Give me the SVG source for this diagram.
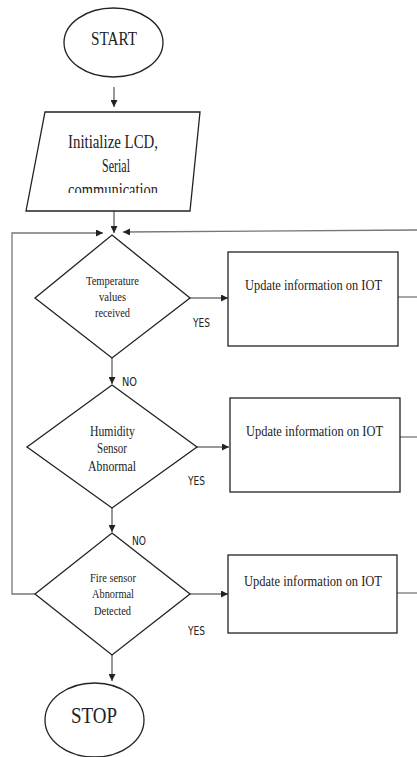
<svg xmlns="http://www.w3.org/2000/svg" width="417" height="757" viewBox="0 0 417 757">
<defs>
<style>
.s{fill:#fff;stroke:#222;stroke-width:1.3}
.c{fill:none;stroke:#333;stroke-width:1}
.g{fill:none;stroke:#777;stroke-width:1.3}
.t{font-family:"Liberation Serif","Times New Roman",serif;fill:#222;text-anchor:middle}
.l{font-family:"DejaVu Sans Condensed","Liberation Sans",sans-serif;font-size:13px;fill:#222}
</style>
<marker id="a" viewBox="0 0 10 10" refX="10" refY="5" markerWidth="7" markerHeight="7" orient="auto" markerUnits="userSpaceOnUse"><path d="M0,0L10,5L0,10z" fill="#222"/></marker>
</defs>
<rect width="417" height="757" fill="#fff"/>
<g id="connectors">
<line class="c" x1="114" y1="87" x2="114" y2="107" marker-end="url(#a)"/>
<line class="c" x1="114" y1="211" x2="114" y2="233" marker-end="url(#a)"/>
<polyline class="g" points="35,594 12,594 12,233 103,233" marker-end="url(#a)"/>
<line class="g" x1="417" y1="230" x2="123" y2="232" marker-end="url(#a)"/>
<line class="c" x1="190" y1="298" x2="228" y2="298" marker-end="url(#a)"/>
<line class="c" x1="112" y1="358" x2="112" y2="384" marker-end="url(#a)"/>
<line class="c" x1="197" y1="447" x2="229" y2="447" marker-end="url(#a)"/>
<line class="c" x1="112" y1="508" x2="112" y2="532" marker-end="url(#a)"/>
<line class="c" x1="190" y1="594" x2="228" y2="594" marker-end="url(#a)"/>
<line class="c" x1="112" y1="655" x2="112" y2="681" marker-end="url(#a)"/>
<line class="g" x1="398" y1="297" x2="417" y2="297"/>
<line class="g" x1="400" y1="437" x2="417" y2="437"/>
<line class="g" x1="397" y1="593" x2="417" y2="593"/>
<text class="l" x="193" y="327" textLength="17" lengthAdjust="spacingAndGlyphs">YES</text>
<text class="l" x="122" y="386" textLength="15" lengthAdjust="spacingAndGlyphs">NO</text>
<text class="l" x="188" y="485" textLength="17" lengthAdjust="spacingAndGlyphs">YES</text>
<text class="l" x="132" y="545" textLength="14" lengthAdjust="spacingAndGlyphs">NO</text>
<text class="l" x="188" y="635" textLength="17" lengthAdjust="spacingAndGlyphs">YES</text>
</g>
<g id="start">
<ellipse class="s" cx="113.5" cy="42.5" rx="49.5" ry="34.5"/>
<text class="t" x="114" y="45" font-size="18" textLength="46" lengthAdjust="spacingAndGlyphs">START</text>
</g>
<g id="init">
<polygon class="s" points="45,112 200,112 190,211 26,211"/>
<text class="t" x="113" y="148" font-size="18.5" textLength="90" lengthAdjust="spacingAndGlyphs">Initialize LCD,</text>
<text class="t" x="116" y="172" font-size="18.5" textLength="28" lengthAdjust="spacingAndGlyphs">Serial</text>
<text class="t" x="113" y="196" font-size="18.5" textLength="90" lengthAdjust="spacingAndGlyphs">communication</text>
<rect x="60" y="193" width="110" height="16" fill="#fff"/>
</g>
<g id="temp">
<polygon class="s" points="112,235 190,298 112,358 35,298"/>
<text class="t" x="112.5" y="285" font-size="12" textLength="53" lengthAdjust="spacingAndGlyphs">Temperature</text>
<text class="t" x="112.5" y="301" font-size="12" textLength="27" lengthAdjust="spacingAndGlyphs">values</text>
<text class="t" x="112.5" y="317" font-size="12" textLength="35" lengthAdjust="spacingAndGlyphs">received</text>
</g>
<g id="iot1">
<rect class="s" x="228" y="252" width="170" height="94"/>
<text class="t" x="313.5" y="290" font-size="15" textLength="137" lengthAdjust="spacingAndGlyphs">Update information on IOT</text>
</g>
<g id="humidity">
<polygon class="s" points="112,385 197,447 112,508 27,447"/>
<text class="t" x="112.5" y="436" font-size="15" textLength="45" lengthAdjust="spacingAndGlyphs">Humidity</text>
<text class="t" x="112" y="453" font-size="15" textLength="30" lengthAdjust="spacingAndGlyphs">Sensor</text>
<text class="t" x="112" y="471" font-size="15" textLength="48" lengthAdjust="spacingAndGlyphs">Abnormal</text>
</g>
<g id="iot2">
<rect class="s" x="230" y="398" width="170" height="94"/>
<text class="t" x="314.5" y="436" font-size="15" textLength="137" lengthAdjust="spacingAndGlyphs">Update information on IOT</text>
</g>
<g id="fire">
<polygon class="s" points="112,533 190,594 112,655 35,594"/>
<text class="t" x="113" y="582" font-size="13" textLength="46" lengthAdjust="spacingAndGlyphs">Fire sensor</text>
<text class="t" x="113" y="598" font-size="13" textLength="42" lengthAdjust="spacingAndGlyphs">Abnormal</text>
<text class="t" x="112.5" y="615" font-size="13" textLength="37" lengthAdjust="spacingAndGlyphs">Detected</text>
</g>
<g id="iot3">
<rect class="s" x="228" y="555" width="169" height="78"/>
<text class="t" x="313" y="586" font-size="15" textLength="138" lengthAdjust="spacingAndGlyphs">Update information on IOT</text>
</g>
<g id="stop">
<ellipse class="s" cx="94.5" cy="720" rx="49.5" ry="37"/>
<text class="t" x="94" y="723" font-size="24" textLength="46" lengthAdjust="spacingAndGlyphs">STOP</text>
</g>
</svg>
